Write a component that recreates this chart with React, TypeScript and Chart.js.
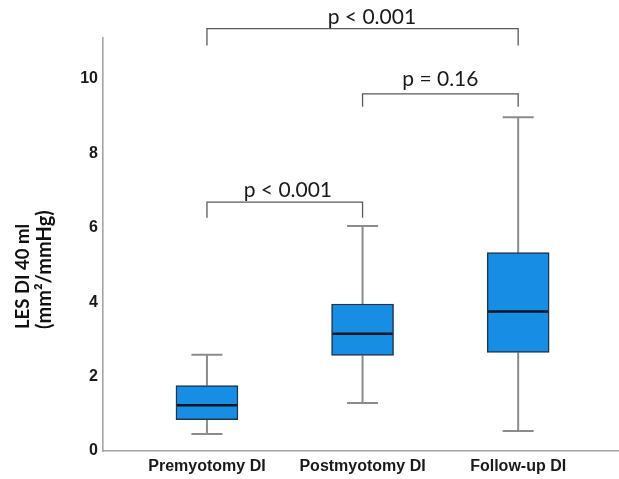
import React, { useEffect, useRef } from "react";
import { Chart, registerables } from "chart.js";

Chart.register(...registerables);

// ---- data ----
const categories = ["Premyotomy DI", "Postmyotomy DI", "Follow-up DI"];
const whiskerLow = [0.46, 1.29, 0.54];
const q1 = [0.84, 2.57, 2.65];
const median = [1.23, 3.15, 3.75];
const q3 = [1.76, 3.95, 5.33];
const whiskerHigh = [2.59, 6.05, 8.97];
const yTicks = [0, 2, 4, 6, 8, 10];

// significance brackets (category positions 1..3, values on y scale)
const bracketFrom = [1, 2, 1];
const bracketTo = [3, 3, 2];
const bracketLevel = [11.35, 9.6, 6.69];
const bracketTip = [10.9, 9.25, 6.27];
const bracketLabels = ["p < 0.001", "p = 0.16", "p < 0.001"];
const bracketLabelX = [2.06, 2.5, 1.52];
const bracketLabelY = [11.67, 10.0, 7.02];

const yTitleLines = ["LES DI 40 ml", "(mm²/mmHg)"];

const BOX_W = 62;
const CAP_W = 31;

const boxPlugin = {
  id: "boxExtras",
  beforeDatasetsDraw(chart: any) {
    const { ctx, scales } = chart;
    const x = scales.x;
    const y = scales.y;
    ctx.save();
    ctx.strokeStyle = "#8c8c8c";
    ctx.lineWidth = 2;
    categories.forEach((_, i) => {
      const cx = x.getPixelForValue(i + 1);
      const hi = y.getPixelForValue(whiskerHigh[i]);
      const lo = y.getPixelForValue(whiskerLow[i]);
      ctx.beginPath();
      ctx.moveTo(cx, y.getPixelForValue(q3[i]));
      ctx.lineTo(cx, hi);
      ctx.moveTo(cx, y.getPixelForValue(q1[i]));
      ctx.lineTo(cx, lo);
      ctx.moveTo(cx - CAP_W / 2, hi);
      ctx.lineTo(cx + CAP_W / 2, hi);
      ctx.moveTo(cx - CAP_W / 2, lo);
      ctx.lineTo(cx + CAP_W / 2, lo);
      ctx.stroke();
    });
    ctx.restore();
  },
  afterDatasetsDraw(chart: any) {
    const { ctx, scales } = chart;
    const x = scales.x;
    const y = scales.y;
    ctx.save();
    ctx.strokeStyle = "#0b1622";
    ctx.lineWidth = 2.6;
    categories.forEach((_, i) => {
      const cx = x.getPixelForValue(i + 1);
      const my = y.getPixelForValue(median[i]);
      ctx.beginPath();
      ctx.moveTo(cx - BOX_W / 2 + 1, my);
      ctx.lineTo(cx + BOX_W / 2 - 1, my);
      ctx.stroke();
    });
    ctx.restore();
  },
  afterDraw(chart: any) {
    const { ctx, scales } = chart;
    const x = scales.x;
    const y = scales.y;
    ctx.save();
    // brackets
    ctx.strokeStyle = "#5a5a5a";
    ctx.lineWidth = 1.3;
    bracketLabels.forEach((label, i) => {
      const x0 = x.getPixelForValue(bracketFrom[i]);
      const x1 = x.getPixelForValue(bracketTo[i]);
      const yl = y.getPixelForValue(bracketLevel[i]);
      const yt = y.getPixelForValue(bracketTip[i]);
      ctx.beginPath();
      ctx.moveTo(x0, yt);
      ctx.lineTo(x0, yl);
      ctx.lineTo(x1, yl);
      ctx.lineTo(x1, yt);
      ctx.stroke();
      ctx.fillStyle = "#1a1a1a";
      ctx.font = "21px Lato, 'Open Sans', sans-serif";
      ctx.textAlign = "center";
      ctx.textBaseline = "middle";
      ctx.fillText(label, x.getPixelForValue(bracketLabelX[i]), y.getPixelForValue(bracketLabelY[i]));
    });
    // y title (two lines, rotated)
    const baseY = 329;
    const lineX = [23.5, 45];
    const fonts = ["bold 18.5px Lato, 'Open Sans', sans-serif", "bold 20px Lato, 'Open Sans', sans-serif"];
    yTitleLines.forEach((line, i) => {
      ctx.save();
      ctx.translate(lineX[i], baseY);
      ctx.rotate(-Math.PI / 2);
      ctx.fillStyle = "#111";
      ctx.font = fonts[i];
      ctx.textAlign = "left";
      ctx.textBaseline = "middle";
      ctx.fillText(line, 0, 0);
      ctx.restore();
    });
    ctx.restore();
  },
};

export default function App() {
  const canvasRef = useRef<HTMLCanvasElement | null>(null);

  useEffect(() => {
    const canvas = canvasRef.current;
    if (!canvas) return;
    const chart = new Chart(canvas, {
      type: "bar",
      data: {
        datasets: [
          {
            data: categories.map((_, i) => ({ x: i + 1, y: [q1[i], q3[i]] })) as any,
            backgroundColor: "rgb(24, 141, 228)",
            borderColor: "#1d3650",
            borderWidth: 1.5,
            borderSkipped: false,
            barThickness: BOX_W,
          },
        ],
      },
      options: {
        animation: false,
        responsive: false,
        devicePixelRatio: 1,
        layout: { padding: { top: 38, right: 0, left: 0, bottom: 0 } },
        plugins: {
          legend: { display: false },
          tooltip: { enabled: false },
          title: { display: false },
        },
        scales: {
          x: {
            type: "linear",
            offset: false,
            min: 0.332,
            max: 3.648,
            grid: { display: false, drawTicks: false, offset: false },
            border: { display: true, color: "#a3a3a3", width: 1.6 },
            afterBuildTicks: (s: any) => {
              s.ticks = categories.map((_, i) => ({ value: i + 1 }));
            },
            afterFit: (s: any) => {
              s.height = 28;
            },
            ticks: {
              padding: 6,
              color: "#1a1a1a",
              font: { family: "'Liberation Sans', Arial, sans-serif", size: 16, weight: "bold" },
              callback: (v: any) => categories[Math.round(Number(v)) - 1] ?? "",
              maxRotation: 0,
              autoSkip: false,
            },
          },
          y: {
            type: "linear",
            min: 0,
            max: 11.1,
            grid: { display: false, drawTicks: false },
            border: { display: true, color: "#a3a3a3", width: 1.6 },
            afterBuildTicks: (s: any) => {
              s.ticks = yTicks.map((v) => ({ value: v }));
            },
            afterFit: (s: any) => {
              s.width = 103;
            },
            ticks: {
              padding: 5,
              color: "#1a1a1a",
              font: { family: "'Liberation Sans', Arial, sans-serif", size: 16, weight: "bold" },
            },
          },
        },
      },
      plugins: [boxPlugin],
    });
    return () => chart.destroy();
  }, []);

  return (
    <div style={{ position: "fixed", left: 0, top: 0, width: 619, height: 479, background: "#fff" }}>
      <canvas ref={canvasRef} width={619} height={479} style={{ display: "block" }} />
    </div>
  );
}
